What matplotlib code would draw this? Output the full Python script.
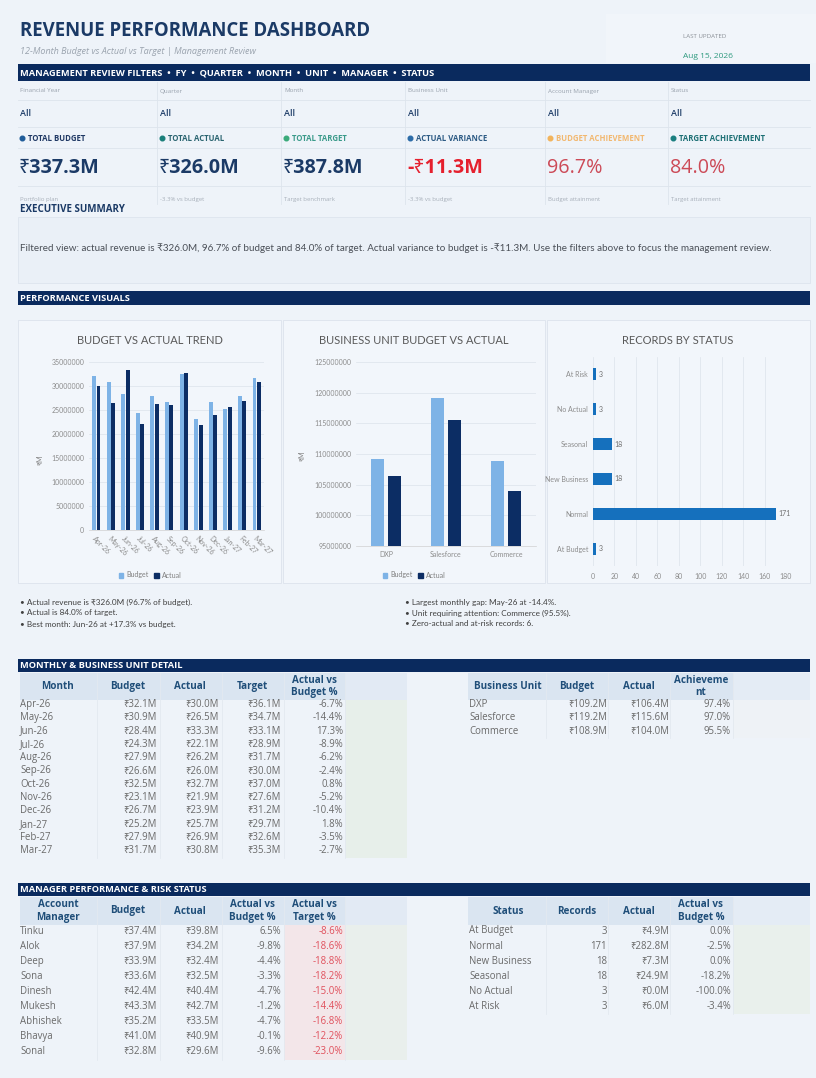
import matplotlib
matplotlib.use("Agg")
import matplotlib.pyplot as plt
from matplotlib.patches import Rectangle, Circle

# fonts with fallback for the rupee sign
plt.rcParams['font.family'] = ['Open Sans', 'Noto Sans', 'DejaVu Sans']
CHART_FONT = ['Lato', 'Noto Sans', 'DejaVu Sans']

W, H = 816, 1078

# ---- data ----
filter_labels = ['Financial Year', 'Quarter', 'Month', 'Business Unit', 'Account Manager', 'Status']
filter_values = ['All', 'All', 'All', 'All', 'All', 'All']

kpi_labels = ['TOTAL BUDGET', 'TOTAL ACTUAL', 'TOTAL TARGET', 'ACTUAL VARIANCE',
              'BUDGET ACHIEVEMENT', 'TARGET ACHIEVEMENT']
kpi_values = ['₹337.3M', '₹326.0M', '₹387.8M', '-₹11.3M', '96.7%', '84.0%']
kpi_notes = ['Portfolio plan', '-3.3% vs budget', 'Target benchmark', '-3.3% vs budget',
             'Budget attainment', 'Target attainment']

months = ['Apr-26', 'May-26', 'Jun-26', 'Jul-26', 'Aug-26', 'Sep-26',
          'Oct-26', 'Nov-26', 'Dec-26', 'Jan-27', 'Feb-27', 'Mar-27']
month_budget = [32.1, 30.9, 28.4, 24.3, 27.9, 26.6, 32.5, 23.1, 26.7, 25.2, 27.9, 31.7]
month_actual = [30.0, 26.5, 33.3, 22.1, 26.2, 26.0, 32.7, 21.9, 23.9, 25.7, 26.9, 30.8]
month_target = [36.1, 34.7, 33.1, 28.9, 31.7, 30.0, 37.0, 27.6, 31.2, 29.7, 32.6, 35.3]
month_vs_budget = [-6.7, -14.4, 17.3, -8.9, -6.2, -2.4, 0.8, -5.2, -10.4, 1.8, -3.5, -2.7]

units = ['DXP', 'Salesforce', 'Commerce']
unit_budget = [109.2, 119.2, 108.9]
unit_actual = [106.4, 115.6, 104.0]
unit_achievement = [97.4, 97.0, 95.5]

statuses = ['At Budget', 'Normal', 'New Business', 'Seasonal', 'No Actual', 'At Risk']
status_records = [3, 171, 18, 18, 3, 3]
status_actual = [4.9, 282.8, 7.3, 24.9, 0.0, 6.0]
status_vs_budget = [0.0, -2.5, 0.0, -18.2, -100.0, -3.4]

managers = ['Tinku', 'Alok', 'Deep', 'Sona', 'Dinesh', 'Mukesh', 'Abhishek', 'Bhavya', 'Sonal']
mgr_budget = [37.4, 37.9, 33.9, 33.6, 42.4, 43.3, 35.2, 41.0, 32.8]
mgr_actual = [39.8, 34.2, 32.4, 32.5, 40.4, 42.7, 33.5, 40.9, 29.6]
mgr_vs_budget = [6.5, -9.8, -4.4, -3.3, -4.7, -1.2, -4.7, -0.1, -9.6]
mgr_vs_target = [-8.6, -18.6, -18.8, -18.2, -15.0, -14.4, -16.8, -12.2, -23.0]

left_notes = ['• Actual revenue is ₹326.0M (96.7% of budget).',
              '• Actual is 84.0% of target.',
              '• Best month: Jun-26 at +17.3% vs budget.']
right_notes = ['• Largest monthly gap: May-26 at -14.4%.',
               '• Unit requiring attention: Commerce (95.5%).',
               '• Zero-actual and at-risk records: 6.']

# ---- colours ----
PAGE = '#EEF3F9'
PANEL = '#F2F6FB'
NAVY = '#0A2A5E'
TITLE = '#1B3A66'
HEAD_BG = '#DAE5F1'
HEAD_TXT = '#1F4E79'
TXT = '#6A6A6A'
GRID = '#DCE2EA'
BUDGET_C = '#7EB3E6'
ACTUAL_C = '#0C2D64'
STATUS_C = '#1570BD'


def money(v):
    return '₹%.1fM' % v


def pct(v):
    return '%.1f%%' % v


def px(x0, y0, x1, y1):
    return [x0 / W, 1 - y1 / H, (x1 - x0) / W, (y1 - y0) / H]


fig = plt.figure(figsize=(W / 100, H / 100), dpi=100, facecolor=PAGE)
bg = fig.add_axes([0, 0, 1, 1])
bg.set_xlim(0, W)
bg.set_ylim(H, 0)
bg.axis('off')


def box(x0, y0, x1, y1, fc, ec='none', lw=0.6):
    bg.add_patch(Rectangle((x0, y0), x1 - x0, y1 - y0, facecolor=fc, edgecolor=ec, linewidth=lw))


def vline(x, y0, y1, c='#DDE4EC', lw=0.6):
    bg.plot([x, x], [y0, y1], color=c, lw=lw)


def hline(y, x0, x1, c='#DDE4EC', lw=0.6):
    bg.plot([x0, x1], [y, y], color=c, lw=lw)


def banner(y0, y1, label):
    box(18, y0, 810, y1, NAVY)
    bg.text(20, (y0 + y1) / 2 + 0.5, label, color='white', fontsize=6.7,
            fontweight='bold', va='center')


# ---- header ----
box(606, 14, 816, 63, '#F1F5FA')
bg.text(20, 31, 'REVENUE PERFORMANCE DASHBOARD', color=TITLE, fontsize=13.4,
        fontweight='bold', va='center')
bg.text(20, 52, '12-Month Budget vs Actual vs Target | Management Review', color='#9AA3AE',
        fontsize=6.5, style='italic', va='center')
bg.text(683, 37, 'LAST UPDATED', color='#8A8F96', fontsize=4.4, va='center')
bg.text(683, 57, 'Aug 15, 2026', color='#2E9A7E', fontsize=6.0, va='center')

banner(64, 81, 'MANAGEMENT REVIEW FILTERS  •  FY  •  QUARTER  •  MONTH  •  UNIT  •  MANAGER  •  STATUS')

# filter + KPI grid
col_x = [20, 160, 284, 408, 548, 671]
col_edges = [18, 157, 281, 405, 545, 668, 810]
for x in col_edges[1:-1]:
    vline(x, 82, 204)
for y in [100, 127, 148, 186]:
    hline(y, 18, 810)

dot_colors = ['#1F5C99', '#1A7F7A', '#3AAA7A', '#2C6CA8', '#F2B45C', '#1A7F80']
label_colors = ['#1F3864', '#2A6470', '#3A9A8A', '#2C5A84', '#F2B870', '#1C6F74']
value_colors = ['#1B3A66', '#1B3A66', '#1B3A66', '#E5202E', '#CC4A57', '#CC4A57']
value_weights = ['bold', 'bold', 'bold', 'bold', 'normal', 'normal']

for i, x in enumerate(col_x):
    bg.text(x, 91, filter_labels[i], color='#9AA3AE', fontsize=4.5, va='center')
    bg.text(x, 114, filter_values[i], color='#1B3A66', fontsize=6.5, va='center',
            fontweight='semibold')
    bg.add_patch(Circle((x + 2.5, 138.5), 2.3, color=dot_colors[i]))
    bg.text(x + 8, 138.5, kpi_labels[i], color=label_colors[i], fontsize=5.6,
            fontweight='bold', va='center')
    bg.text(x - 1, 168, kpi_values[i], color=value_colors[i], fontsize=14.2,
            fontweight=value_weights[i], va='center')
    bg.text(x, 199, kpi_notes[i], color='#A8B0BA', fontsize=4.3, va='center')

# ---- executive summary ----
bg.text(20, 210, 'EXECUTIVE SUMMARY', color=TITLE, fontsize=7.0, fontweight='bold', va='center')
box(18, 217, 810, 283, '#EAF0F7', '#DDE4EE')
summary = ('Filtered view: actual revenue is ₹326.0M, 96.7% of budget and 84.0% of target. '
           'Actual variance to budget is -₹11.3M. Use the filters above to focus the management review.')
bg.text(20, 248, summary, color='#4A4F57', fontsize=7.1, va='center', family=CHART_FONT)

# ---- performance visuals ----
banner(291, 305, 'PERFORMANCE VISUALS')
for x0, x1 in [(18, 281), (283, 545), (547, 810)]:
    box(x0, 320, x1, 583, PANEL, '#DCE3EC')


def style_axis(ax):
    ax.set_facecolor('none')
    for s in ax.spines.values():
        s.set_visible(False)
    ax.tick_params(length=0, labelsize=5.0, labelcolor='#8C8C8C')
    for lab in ax.get_xticklabels() + ax.get_yticklabels():
        lab.set_family(CHART_FONT)


def legend(ax, cx, cy):
    handles = [Rectangle((0, 0), 1, 1, color=BUDGET_C), Rectangle((0, 0), 1, 1, color=ACTUAL_C)]
    ax.legend(handles, ['Budget', 'Actual'], loc='center', bbox_to_anchor=(cx / W, 1 - cy / H),
              bbox_transform=fig.transFigure, ncol=2, frameon=False, handlelength=0.7,
              handleheight=0.7, handletextpad=0.4, columnspacing=0.8,
              prop={'family': CHART_FONT, 'size': 5.0}, labelcolor='#7F7F7F')


# chart 1: monthly trend
ax1 = fig.add_axes(px(89, 362, 264, 530))
xs = range(len(months))
ax1.bar([i - 0.15 for i in xs], [v * 1e6 for v in month_budget], width=0.27, color=BUDGET_C, zorder=3)
ax1.bar([i + 0.15 for i in xs], [v * 1e6 for v in month_actual], width=0.27, color=ACTUAL_C, zorder=3)
ax1.set_xlim(-0.5, len(months) - 0.5)
ax1.set_ylim(0, 35e6)
ax1.set_yticks([i * 5e6 for i in range(8)])
ax1.set_yticklabels(['%d' % (i * 5000000) for i in range(8)])
ax1.set_xticks(list(xs))
ax1.set_xticklabels(months, rotation=-45, ha='left', rotation_mode='anchor')
ax1.grid(axis='y', color=GRID, lw=0.5, zorder=0)
style_axis(ax1)
ax1.spines['bottom'].set_visible(True)
ax1.spines['bottom'].set_color('#D0D0D0')
ax1.spines['bottom'].set_linewidth(0.5)
bg.text(150, 340, 'BUDGET VS ACTUAL TREND', ha='center', va='center', fontsize=8.0,
        color='#595959', family=CHART_FONT)
bg.text(40, 460, '₹M', rotation=90, ha='center', va='center', fontsize=5.0, color='#7F7F7F',
        family=CHART_FONT)
legend(ax1, 150, 575)

# chart 2: business unit
ax2 = fig.add_axes(px(356, 362, 536, 546))
ux = range(len(units))
ax2.bar([i - 0.145 for i in ux], [v * 1e6 for v in unit_budget], width=0.22, color=BUDGET_C, zorder=3)
ax2.bar([i + 0.145 for i in ux], [v * 1e6 for v in unit_actual], width=0.22, color=ACTUAL_C, zorder=3)
ax2.set_xlim(-0.5, len(units) - 0.5)
ax2.set_ylim(95e6, 125e6)
ax2.set_yticks([95e6 + i * 5e6 for i in range(7)])
ax2.set_yticklabels(['%d' % (95000000 + i * 5000000) for i in range(7)])
ax2.set_xticks(list(ux))
ax2.set_xticklabels(units)
ax2.grid(axis='y', color=GRID, lw=0.5, zorder=0)
style_axis(ax2)
ax2.spines['bottom'].set_visible(True)
ax2.spines['bottom'].set_color('#D0D0D0')
ax2.spines['bottom'].set_linewidth(0.5)
bg.text(414, 340, 'BUSINESS UNIT BUDGET VS ACTUAL', ha='center', va='center', fontsize=8.0,
        color='#595959', family=CHART_FONT)
bg.text(302, 456, '₹M', rotation=90, ha='center', va='center', fontsize=5.0, color='#7F7F7F',
        family=CHART_FONT)
legend(ax2, 414, 575)

# chart 3: records by status
ax3 = fig.add_axes(px(593, 357, 786, 566))
sy = range(len(statuses))
ax3.barh(list(sy), status_records, height=0.34, color=STATUS_C, zorder=3)
for i, v in enumerate(status_records):
    ax3.text(v + 2, i, str(v), va='center', fontsize=5.0, color='#6F6F6F', family=CHART_FONT)
ax3.set_xlim(0, 180)
ax3.set_ylim(-0.5, len(statuses) - 0.5)
ax3.set_xticks(range(0, 181, 20))
ax3.set_yticks(list(sy))
ax3.set_yticklabels(statuses)
ax3.grid(axis='x', color=GRID, lw=0.5, zorder=0)
style_axis(ax3)
ax3.tick_params(axis='x', pad=5)
bg.text(678, 340, 'RECORDS BY STATUS', ha='center', va='center', fontsize=8.0,
        color='#595959', family=CHART_FONT)

for k, line in enumerate(left_notes):
    bg.text(20, 602 + k * 11, line, fontsize=5.9, color='#3F3F3F', va='center', family=CHART_FONT)
for k, line in enumerate(right_notes):
    bg.text(405, 602 + k * 11, line, fontsize=5.9, color='#3F3F3F', va='center', family=CHART_FONT)


# ---- tables ----
def header_cell(x, y, label):
    bg.text(x, y, label, ha='center', va='center', fontsize=7.1, fontweight='bold',
            color=HEAD_TXT, linespacing=1.2)


def cell(x, y, label, ha='right', color=TXT):
    bg.text(x, y, label, ha=ha, va='center', fontsize=6.9, color=color)


LEFT_SEPS = [97, 160, 222, 284, 345]
LEFT_RIGHTS = [157, 219, 281, 343]
LEFT_CENTERS = [58, 128, 190, 252, 314]
RIGHT_SEPS = [546, 608, 670, 733]
RIGHT_RIGHTS = [607, 669, 731]
RIGHT_CENTERS = [508, 577, 639, 701]

banner(659, 672, 'MONTHLY & BUSINESS UNIT DETAIL')

# monthly table
box(20, 673, 345, 700, HEAD_BG)
box(345, 673, 407, 700, '#E2EAF4')
box(345, 700, 407, 858, '#E7EFEA')
for x in LEFT_SEPS:
    vline(x, 673, 858, c='#E3E9F0')
for j, lab in enumerate(['Month', 'Budget', 'Actual', 'Target', 'Actual vs\nBudget %']):
    header_cell(LEFT_CENTERS[j], 686.5, lab)
for r, m in enumerate(months):
    y = 704.5 + r * 13.3
    cell(20, y, m, ha='left')
    cell(LEFT_RIGHTS[0], y, money(month_budget[r]))
    cell(LEFT_RIGHTS[1], y, money(month_actual[r]))
    cell(LEFT_RIGHTS[2], y, money(month_target[r]))
    cell(LEFT_RIGHTS[3], y, pct(month_vs_budget[r]))

# business unit table
box(468, 673, 733, 700, HEAD_BG)
box(733, 673, 810, 700, '#E4ECF5')
box(733, 700, 810, 738, '#EEF2F6')
for x in RIGHT_SEPS:
    vline(x, 673, 738, c='#E3E9F0')
for j, lab in enumerate(['Business Unit', 'Budget', 'Actual', 'Achieveme\nnt']):
    header_cell(RIGHT_CENTERS[j], 686.5, lab)
for r, u in enumerate(units):
    y = 704.5 + r * 13.3
    cell(469, y, u, ha='left')
    cell(RIGHT_RIGHTS[0], y, money(unit_budget[r]))
    cell(RIGHT_RIGHTS[1], y, money(unit_actual[r]))
    cell(RIGHT_RIGHTS[2], y, pct(unit_achievement[r]))

banner(883, 896, 'MANAGER PERFORMANCE & RISK STATUS')

# manager table
box(20, 897, 345, 925, HEAD_BG)
box(345, 897, 407, 925, '#E2EAF4')
box(284, 925, 345, 1060, '#F3E6E9')
box(345, 925, 407, 1060, '#E9EFEC')
for x in LEFT_SEPS:
    vline(x, 897, 1060, c='#E3E9F0')
for j, lab in enumerate(['Account\nManager', 'Budget', 'Actual', 'Actual vs\nBudget %',
                         'Actual vs\nTarget %']):
    header_cell(LEFT_CENTERS[j], 911, lab)
for r, m in enumerate(managers):
    y = 931 + r * 15.1
    cell(20, y, m, ha='left')
    cell(LEFT_RIGHTS[0], y, money(mgr_budget[r]))
    cell(LEFT_RIGHTS[1], y, money(mgr_actual[r]))
    cell(LEFT_RIGHTS[2], y, pct(mgr_vs_budget[r]))
    cell(LEFT_RIGHTS[3], y, pct(mgr_vs_target[r]), color='#E0505C')

# status table
box(468, 897, 733, 925, HEAD_BG)
box(733, 897, 810, 925, '#E4ECF5')
box(733, 925, 810, 1014, '#E9F0EC')
for x in RIGHT_SEPS:
    vline(x, 897, 1014, c='#E3E9F0')
for j, lab in enumerate(['Status', 'Records', 'Actual', 'Actual vs\nBudget %']):
    header_cell(RIGHT_CENTERS[j], 911, lab)
for r, s in enumerate(statuses):
    y = 931 + r * 15.1
    cell(469, y, s, ha='left')
    cell(RIGHT_RIGHTS[0], y, str(status_records[r]))
    cell(RIGHT_RIGHTS[1], y, money(status_actual[r]))
    cell(RIGHT_RIGHTS[2], y, pct(status_vs_budget[r]))

fig.savefig('out.png', dpi=100, facecolor=PAGE)
